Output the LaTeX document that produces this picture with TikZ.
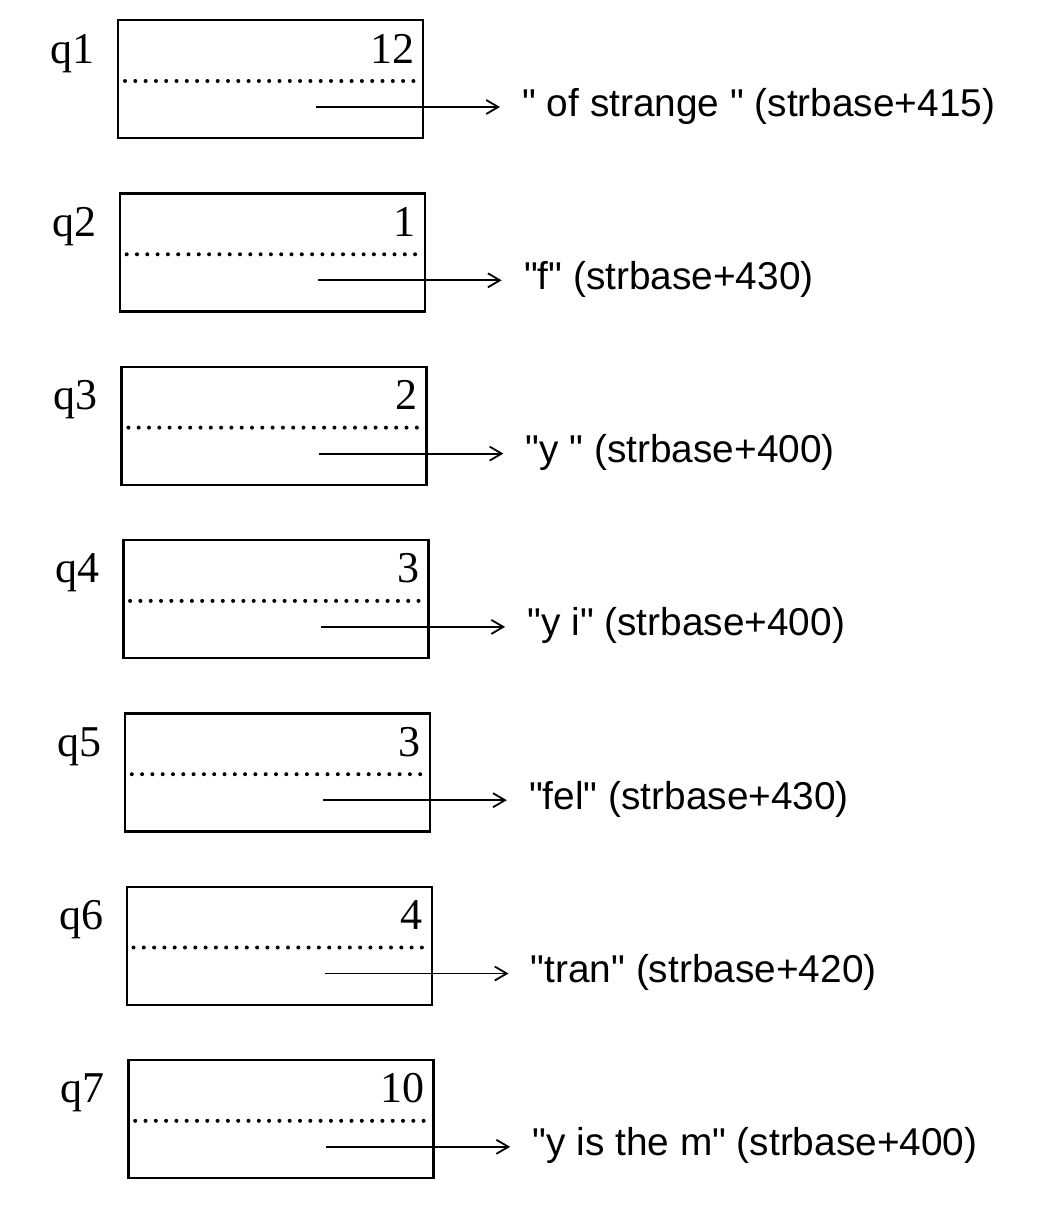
\documentclass[tikz,border=0pt]{standalone}
\usepackage{fontspec}
\setmainfont{Liberation Serif}
\newfontfamily\strfont{Liberation Sans}
\usetikzlibrary{arrows.meta}
\begin{document}
\begin{tikzpicture}[x=0.5pt,y=-0.5pt,
  regbox/.style={draw,line width=1.2pt,minimum width=152.5pt,minimum height=59pt,inner sep=0pt,anchor=north west},
  dots/.style={line width=2pt,dash pattern=on 0pt off 5.15pt,line cap=round},
  ptr/.style={line width=0.9pt,-{Straight Barb[length=6pt,width=7pt]}},
  qlab/.style={font=\fontsize{22}{24}\selectfont,anchor=base east,inner sep=0pt},
  numlab/.style={font=\fontsize{22}{24}\selectfont,anchor=base east,inner sep=0pt},
  strlab/.style={font=\strfont\fontsize{19.4}{22}\selectfont,anchor=base west,inner sep=0pt}]
\useasboundingbox (0,0) rectangle (1040,1217);
\foreach \i/\n/\s [evaluate=\i as \L using 117+1.7*(\i-1), evaluate=\i as \T using 19+173.3*(\i-1)] in
  {1/12/{" of strange " (strbase+415)},
   2/1/{"f" (strbase+430)},
   3/2/{"y " (strbase+400)},
   4/3/{"y i" (strbase+400)},
   5/3/{"fel" (strbase+430)},
   6/4/{"tran" (strbase+420)},
   7/10/{"y is the m" (strbase+400)}}{
  \node[regbox] (box\i) at (\L,\T) {};
  \draw[dots] ([xshift=4pt,yshift=-31pt]box\i.north west) -- ([xshift=-3pt,yshift=-31pt]box\i.north east);
  \node[numlab] (num\i) at ([xshift=-5pt,yshift=-22pt]box\i.north east) {\n};
  \node[qlab] (q\i) at ([xshift=-11pt,yshift=-22pt]box\i.north west) {q\i};
  \coordinate (a\i) at ([xshift=99.5pt,yshift=-44pt]box\i.north west);
  \node[strlab] (s\i) at ([xshift=202.5pt,yshift=-48.5pt]box\i.north west) {\s};
  \draw[ptr,shorten >=11pt] (a\i) -- (a\i -| s\i.west);
}
\end{tikzpicture}
\end{document}
